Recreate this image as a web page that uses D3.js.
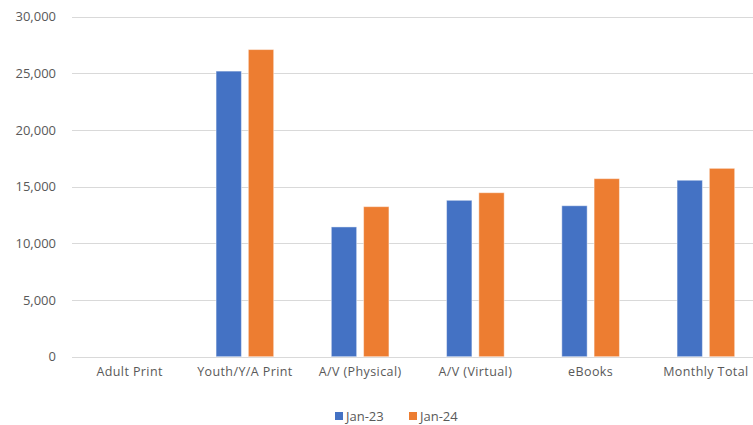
<!DOCTYPE html>
<html>
<head>
<meta charset="utf-8">
<script src="https://cdnjs.cloudflare.com/ajax/libs/d3/7.8.5/d3.min.js"></script>
<style>
  body { margin: 0; background: #fff; }
  svg { display: block; font-family: "Open Sans", "Liberation Sans", Arial, sans-serif; }
</style>
</head>
<body>
<svg id="chart" width="753" height="425"></svg>
<script>
//// DATA

var categories = ["Adult Print", "Youth/Y/A Print", "A/V (Physical)", "A/V (Virtual)", "eBooks", "Monthly Total"];
var seriesNames = ["Jan-23", "Jan-24"];
var jan23 = [0, 25200, 11450, 13800, 13320, 15570];
var jan24 = [0, 27100, 13240, 14470, 15710, 16620];
var yTicks = [0, 5000, 10000, 15000, 20000, 25000, 30000];
var colors = ["#4472C4", "#ED7D31"];

//// MAIN

var svg = d3.select("#chart");
var fontName = "Open Sans, Liberation Sans, Arial, sans-serif";
// plot box (window.top is reserved, so use other names)
var plotLeft = 72, plotRight = 763.5, plotTop = 16.7, plotBottom = 356.7;

// Category scale (plot runs off the right edge like the source)
var x0 = d3.scaleBand().domain(categories).range([plotLeft, plotRight]).paddingInner(0.5).paddingOuter(0.25);
var x1 = d3.scaleBand().domain(seriesNames).range([0, x0.bandwidth()]).paddingInner(0.215);
var y = d3.scaleLinear().domain([0, 30000]).range([plotBottom, plotTop]);

// Gridlines
svg.append("g")
  .selectAll("line")
  .data(yTicks)
  .enter().append("line")
  .attr("x1", plotLeft).attr("x2", 753)
  .attr("y1", function(d) { return Math.round(y(d)) + 0.5; })
  .attr("y2", function(d) { return Math.round(y(d)) + 0.5; })
  .attr("stroke", "#d9d9d9")
  .attr("stroke-width", 1);

// Y axis labels
var yAxis = d3.axisLeft(y).tickValues(yTicks).tickFormat(d3.format(",")).tickSize(0).tickPadding(16);
var gy = svg.append("g").attr("transform", "translate(" + plotLeft + ",0)").call(yAxis);
gy.select(".domain").remove();
gy.selectAll("text").attr("fill", "#595959").style("font-size", "13px").style("font-family", fontName);

// Bars
var rows = categories.map(function(c, i) { return { cat: c, vals: [jan23[i], jan24[i]] }; });
var groups = svg.append("g").selectAll("g")
  .data(rows)
  .enter().append("g")
  .attr("transform", function(d) { return "translate(" + x0(d.cat) + ",0)"; });

groups.selectAll("rect")
  .data(function(d) {
    return d.vals.map(function(v, k) { return { name: seriesNames[k], v: v, k: k }; })
      .filter(function(e) { return e.v > 0; });
  })
  .enter().append("rect")
  .attr("x", function(d) { return x1(d.name); })
  .attr("width", x1.bandwidth())
  .attr("y", function(d) { return y(d.v); })
  .attr("height", function(d) { return y(0) - y(d.v); })
  .attr("fill", function(d) { return colors[d.k]; })
  .attr("stroke", "#ffffff")
  .attr("stroke-opacity", 0.45)
  .attr("stroke-width", 1);

// X axis labels
var xAxis = d3.axisBottom(x0).tickSize(0).tickPadding(10);
var gx = svg.append("g").attr("transform", "translate(0," + plotBottom + ")").call(xAxis);
gx.select(".domain").remove();
gx.selectAll("text").attr("fill", "#595959").style("font-size", "12.5px")
  .style("letter-spacing", "0.4px").style("font-family", fontName);

// Legend
var legendX = [335, 409];
var legend = svg.append("g").selectAll("g")
  .data(seriesNames)
  .enter().append("g")
  .attr("transform", function(d, i) { return "translate(" + legendX[i] + ",412)"; });
legend.append("rect").attr("width", 8).attr("height", 8).attr("fill", function(d, i) { return colors[i]; });
legend.append("text").attr("x", 11).attr("y", 9).attr("fill", "#595959")
  .style("font-size", "13px").style("font-family", fontName).text(function(d) { return d; });
</script>
</body>
</html>
